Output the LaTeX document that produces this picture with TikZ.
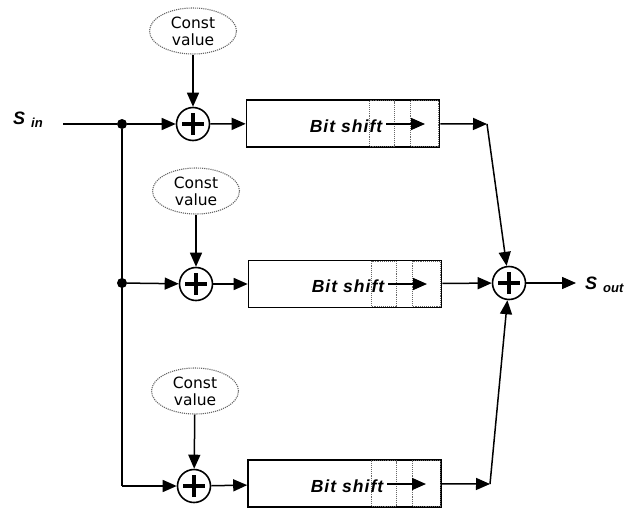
\documentclass[tikz,border=0pt]{standalone}
\usepackage{fontspec}
\setmainfont{Liberation Sans}
\newfontfamily\constfont{DejaVu Sans}
\usetikzlibrary{arrows.meta,shapes.geometric}
\tikzset{
  wire/.style={line width=1.5pt,-{Triangle[length=14pt,width=12pt]}},
  plainwire/.style={line width=1.5pt},
  adder/.style={circle,draw,line width=1.6pt,minimum size=33pt,inner sep=0pt},
  constnode/.style={ellipse,draw=black!60,densely dotted,line width=1.1pt,minimum width=87pt,minimum height=46pt,inner sep=0pt,align=center,font=\constfont\fontsize{15.5}{17}\selectfont},
  shiftbox/.style={draw,line width=1.6pt,minimum width=193pt,minimum height=47pt,inner sep=0pt},
  cell/.style={draw=black!60,densely dotted,line width=1.1pt},
  shifttext/.style={font=\addfontfeatures{LetterSpace=6}\fontsize{17.5}{19}\selectfont\bfseries\itshape,anchor=base,inner sep=0pt},
  dot/.style={circle,fill,minimum size=10pt,inner sep=0pt},
  lbl/.style={anchor=base west,inner sep=0pt,font=\fontsize{18}{20}\selectfont\bfseries\itshape}
}
\newcommand{\plussign}[1]{%
  \draw[line width=4pt] ([xshift=-11pt]#1.center) -- ([xshift=11pt]#1.center);
  \draw[line width=4pt] ([yshift=-11pt]#1.center) -- ([yshift=11pt]#1.center);}
\newcommand{\cells}[1]{%
  \draw[cell] ([xshift=124pt,yshift=-1.5pt]#1.north west) rectangle ([xshift=149pt,yshift=1.5pt]#1.south west);
  \draw[cell] ([xshift=165pt,yshift=-1.5pt]#1.north west) rectangle ([xshift=-1.5pt,yshift=1.5pt]#1.south east);}
\begin{document}
\begin{tikzpicture}[x=1pt,y=-1pt]
\useasboundingbox (0,0) rectangle (642,509);
% input
\node[lbl] (sin) at (13,124) {S\hspace{6pt}\raisebox{-3.5pt}{\fontsize{13}{14}\selectfont in}};
\coordinate (sinend) at (63,124);
\node[dot] (j1) at (122,124) {};
\node[dot] (j2) at (122,283) {};
\coordinate (j3) at (122,486);
% adders
\node[adder] (a1) at (193,124) {};
\node[adder] (a2) at (196,284) {};
\node[adder] (a3) at (194,486) {};
\node[adder] (ao) at (509,283) {};
\plussign{a1}\plussign{a2}\plussign{a3}\plussign{ao}
% constants
\node[constnode] (c1) at (193,31) {Const\\value};
\node[constnode] (c2) at (196,191) {Const\\value};
\node[constnode] (c3) at (195,391) {Const\\value};
% shift boxes
\node[shiftbox] (b1) at (343,123.5) {};
\node[shiftbox] (b2) at (345,284) {};
\node[shiftbox] (b3) at (344.5,483.5) {};
\cells{b1}\cells{b2}\cells{b3}
\node[shifttext] (t1) at (346,132) {Bit shift};
\node[shifttext] (t2) at (348,292) {Bit shift};
\node[shifttext] (t3) at (347,492) {Bit shift};
\coordinate (i1s) at (386,124); \coordinate (i1e) at (425,124);
\coordinate (i2s) at (388,284); \coordinate (i2e) at (427,284);
\coordinate (i3s) at (387,484); \coordinate (i3e) at (426,484);
\draw[wire] (i1s) -- (i1e);
\draw[wire] (i2s) -- (i2e);
\draw[wire] (i3s) -- (i3e);
% output corners
\coordinate (o1) at (487,124);
\coordinate (o3) at (490,484);
\coordinate (soutend) at (576,283);
\node[lbl] (sout) at (585,289) {S\hspace{6pt}\raisebox{-3pt}{\fontsize{13}{14}\selectfont out}};
% wires
\draw[plainwire] (sinend) -- (j1);
\draw[wire] (j1) -- (a1);
\draw[plainwire] (j1) -- (j3);
\draw[wire] (j2) -- (a2);
\draw[wire] (j3) -- (a3);
\draw[wire] (c1) -- (a1);
\draw[wire] (c2) -- (a2);
\draw[wire] (c3) -- (a3);
\draw[wire] (a1) -- (b1);
\draw[wire] (a2) -- (b2);
\draw[wire] (a3) -- (b3);
\draw[wire] (b1) -- (o1);
\draw[wire] (b3) -- (o3);
\draw[wire] (o1) -- (ao);
\draw[wire] (b2) -- (ao);
\draw[wire] (o3) -- (ao);
\draw[wire] (ao) -- (soutend);
\end{tikzpicture}
\end{document}
